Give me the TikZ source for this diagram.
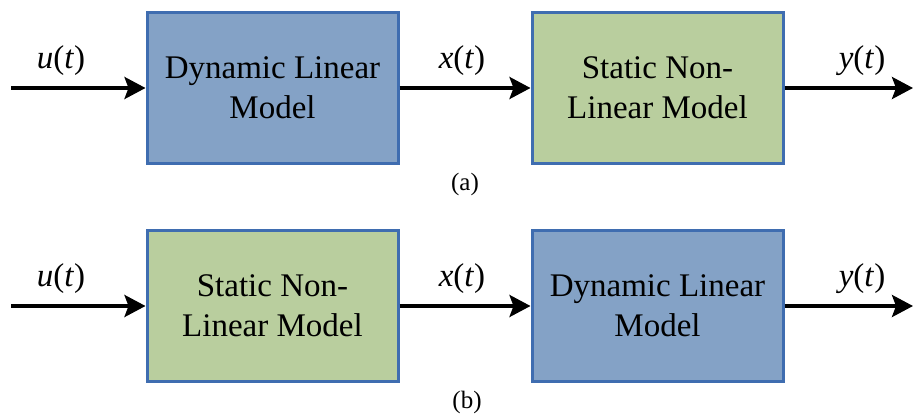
\documentclass[tikz,border=0pt]{standalone}
\usepackage{fontspec}
\setmainfont{Liberation Serif}
\newfontfamily\labelfont{Liberation Serif}
\usetikzlibrary{arrows.meta}
\definecolor{dynfill}{HTML}{84A2C6}
\definecolor{statfill}{HTML}{B9CE9E}
\definecolor{boxedge}{HTML}{3F6DB0}
\tikzset{
  block/.style={draw=boxedge, line width=3pt, minimum width=251pt, minimum height=151pt,
    align=center, font=\labelfont\fontsize{33}{40}\selectfont, inner sep=0pt},
  dynblock/.style={block, fill=dynfill},
  statblock/.style={block, fill=statfill},
  flow/.style={line width=3.5pt, -{Stealth[length=21pt,width=22pt,inset=4pt]}},
  sig/.style={font=\labelfont\fontsize{33}{33}\selectfont, inner sep=0pt},
  caption/.style={font=\labelfont\fontsize{25}{25}\selectfont, inner sep=0pt}
}
\begin{document}
\begin{tikzpicture}[x=1pt, y=-1pt]
  \useasboundingbox (0,0) rectangle (913,414);

  % (a) Wiener structure: linear dynamics followed by static nonlinearity
  \coordinate (ina) at (11,88);
  \coordinate (outa) at (913,88);
  \node[dynblock]  (lina)  at (272.5,88) {Dynamic Linear\\Model};
  \node[statblock] (nla)   at (657.5,88) {Static Non-\\Linear Model};
  \draw[flow] (ina) -- (lina.west);
  \draw[flow] (lina.east) -- (nla.west);
  \draw[flow] (nla.east) -- (outa);
  \node[sig] (ua) at (61,61)  {\textit{u}(\textit{t})};
  \node[sig] (xa) at (462,61) {\textit{x}(\textit{t})};
  \node[sig] (ya) at (862,61) {\textit{y}(\textit{t})};
  \node[caption] (capa) at (465,184) {(a)};

  % (b) Hammerstein structure: static nonlinearity followed by linear dynamics
  \coordinate (inb) at (11,306);
  \coordinate (outb) at (913,306);
  \node[statblock] (nlb)  at (272.5,306) {Static Non-\\Linear Model};
  \node[dynblock]  (linb) at (657.5,306) {Dynamic Linear\\Model};
  \draw[flow] (inb) -- (nlb.west);
  \draw[flow] (nlb.east) -- (linb.west);
  \draw[flow] (linb.east) -- (outb);
  \node[sig] (ub) at (61,279)  {\textit{u}(\textit{t})};
  \node[sig] (xb) at (462,279) {\textit{x}(\textit{t})};
  \node[sig] (yb) at (862,279) {\textit{y}(\textit{t})};
  \node[caption] (capb) at (467,402) {(b)};
\end{tikzpicture}
\end{document}
